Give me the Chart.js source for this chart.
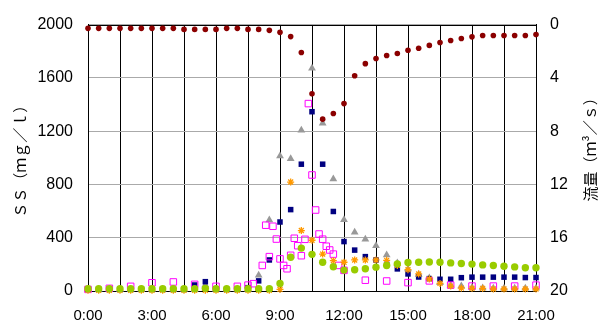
<!DOCTYPE html>
<html>
<head>
<meta charset="utf-8">
<style>
  html, body { margin: 0; padding: 0; background: #fff; }
  #wrap { width: 598px; height: 322px; }
</style>
</head>
<body>
<div id="wrap"><canvas id="ssChart" width="598" height="322"></canvas></div>
<script src="https://cdn.jsdelivr.net/npm/chart.js@4.4.0/dist/chart.umd.min.js"></script>
<script>
// sampling times in hours, every 30 minutes
const halfHours = [0, 0.5, 1, 1.5, 2, 2.5, 3, 3.5, 4, 4.5, 5, 5.5, 6, 6.5, 7, 7.5, 8, 8.5, 9, 9.5,
  10, 10.5, 11, 11.5, 12, 12.5, 13, 13.5, 14, 14.5, 15, 15.5, 16, 16.5, 17, 17.5, 18, 18.5, 19, 19.5,
  20, 20.5, 21];

// flow (m3/s), right axis
const flow = [0.28, 0.28, 0.28, 0.28, 0.28, 0.28, 0.28, 0.28, 0.28, 0.36, 0.36, 0.36, 0.36, 0.28, 0.28, 0.36, 0.36, 0.43, 0.58, 0.9,
  2.1, 5.2, 7.1, 6.67, 5.93, 3.84, 2.93, 2.54, 2.32, 2.17, 1.93, 1.78, 1.56, 1.34, 1.19, 1.04, 0.92, 0.82, 0.82, 0.82,
  0.82, 0.82, 0.75];

// SS (mg/l), left axis
const ssGreen = [17, 17, 17, 17, 17, 17, 17, 17, 17, 17, 17, 20, 17, 17, 17, 17, 17, 17, 57, 253,
  322, 275, 216, 182, 157, 160, 167, 179, 192, 204, 214, 216, 218, 216, 211, 207, 202, 196, 192, 186,
  181, 175, 175];
const ssOrange = [5, 5, 5, 5, 5, 5, 5, 5, 5, 5, 5, 5, 5, 5, 5, 5, 5, 5, 12, 818,
  454, 381, 277, 228, 216, 233, 233, 233, 230, 192, 160, 128, 90, 57, 37, 22, 20, 20, 15, 15,
  15, 15, 15];
const ssNavy = [12, 12, 12, 12, 12, 12, 12, 12, 12, 12, 45, 70, 15, 12, 12, 25, 76, 233, 518, 611,
  952, 1346, 952, 597, 371, 307, 258, 233, 200, 166, 128, 105, 93, 88, 88, 100, 104, 104, 104, 104,
  104, 101, 101];
const ssGray = [10, 10, 10, 10, 10, 10, 10, 10, 10, 10, 10, 45, 12, 12, 12, 12, 118, 533, 1014, 992,
  1206, 1672, 1260, 840, 535, 442, 388, 339, 271, 210, 165, 124, 97, 61, 44, 37, 27, 22, 20, 20,
  20, 20, 20];

// magenta series sampled at irregular times
const pinkTimes = [0, 1, 2, 3, 4, 5, 6, 7, 7.5, 7.75, 8.17, 8.33, 8.5, 8.67, 8.83, 9, 9.17, 9.33, 9.5, 9.67, 9.83,
  10, 10.17, 10.33, 10.5, 10.67, 10.83, 11, 11.17, 11.33, 11.5, 11.75, 12, 13, 14, 15, 16, 17, 18, 19, 20, 21];
const ssPink = [12, 20, 35, 62, 68, 50, 35, 35, 44, 55, 192, 494, 258, 486, 390, 241, 192, 167, 268, 396, 340,
  265, 388, 1407, 871, 608, 428, 389, 336, 308, 277, 192, 155, 81, 75, 63, 76, 44, 37, 37, 37, 44];

const ssTitle = 'ＳＳ（ｍｇ／ｌ）';
const flowTitle = '流量（ｍ³／ｓ）';

function pts(xs, ys) {
  return xs.map((x, i) => ({x: x, y: ys[i]}));
}

const fontNum = '"Liberation Sans", Arial, sans-serif';
const fontJp = '"Noto Sans CJK JP", sans-serif';

// frame round the plot and the right-hand title (reads bottom to top)
const frame = {
  id: 'frame',
  beforeDatasetsDraw(chart) {
    const {ctx, chartArea: a} = chart;
    ctx.save();
    ctx.strokeStyle = '#000';
    ctx.lineWidth = 1;
    ctx.strokeRect(Math.round(a.left) + 0.5, Math.round(a.top) + 0.5,
      Math.round(a.right - a.left), Math.round(a.bottom - a.top));
    ctx.restore();
  },
  afterDraw(chart) {
    const {ctx, chartArea: a} = chart;
    ctx.save();
    ctx.translate(chart.width - 8, (a.top + a.bottom) / 2 - 12);
    ctx.rotate(-Math.PI / 2);
    ctx.font = '15px ' + fontJp;
    ctx.fillStyle = '#000';
    ctx.textAlign = 'center';
    ctx.textBaseline = 'middle';
    ctx.fillText(flowTitle, 0, 0);
    ctx.restore();
  }
};

new Chart(document.getElementById('ssChart'), {
  type: 'scatter',
  data: {
    datasets: [
      {
        label: 'flow',
        data: pts(halfHours, flow),
        yAxisID: 'y1',
        pointStyle: 'circle',
        pointRadius: 2.8,
        backgroundColor: '#8b0000',
        borderColor: '#8b0000',
        borderWidth: 0
      },
      {
        label: 'green',
        data: pts(halfHours, ssGreen),
        yAxisID: 'y',
        pointStyle: 'circle',
        pointRadius: 3.7,
        backgroundColor: '#99cc00',
        borderColor: '#99cc00',
        borderWidth: 0
      },
      {
        label: 'orange',
        data: pts(halfHours, ssOrange),
        yAxisID: 'y',
        pointStyle: 'star',
        pointRadius: 3.5,
        backgroundColor: '#ff9900',
        borderColor: '#ff9900',
        borderWidth: 1.3
      },
      {
        label: 'pink',
        data: pts(pinkTimes, ssPink),
        yAxisID: 'y',
        pointStyle: 'rect',
        pointRadius: 4.6,
        backgroundColor: 'rgba(255,255,255,0)',
        borderColor: '#ff00ff',
        borderWidth: 1
      },
      {
        label: 'navy',
        data: pts(halfHours, ssNavy),
        yAxisID: 'y',
        pointStyle: 'rect',
        pointRadius: 3.9,
        backgroundColor: '#000080',
        borderColor: '#000080',
        borderWidth: 0
      },
      {
        label: 'gray',
        data: pts(halfHours, ssGray),
        yAxisID: 'y',
        pointStyle: 'triangle',
        pointRadius: 4.5,
        backgroundColor: '#999999',
        borderColor: '#999999',
        borderWidth: 0
      }
    ]
  },
  options: {
    responsive: false,
    animation: false,
    devicePixelRatio: 1,
    clip: false,
    layout: { padding: { top: 20, right: 0, bottom: 0, left: 0 } },
    plugins: {
      legend: { display: false },
      tooltip: { enabled: false }
    },
    scales: {
      x: {
        type: 'linear',
        min: 0,
        max: 21,
        afterFit(scale) { scale.height = 31; },
        grid: { color: '#000', lineWidth: 1, drawTicks: false },
        border: { color: '#000' },
        ticks: {
          stepSize: 1.5,
          autoSkip: false,
          maxRotation: 0,
          padding: 16,
          color: '#000',
          font: { family: fontNum, size: 15 },
          callback: v => (v % 3 === 0 ? v + ':00' : '')
        }
      },
      y: {
        position: 'left',
        min: 0,
        max: 2000,
        afterFit(scale) { scale.width = 88; },
        grid: { color: '#aaaaaa', lineWidth: 1, drawTicks: false },
        border: { color: '#000' },
        ticks: {
          stepSize: 400,
          padding: 15,
          color: '#000',
          font: { family: fontNum, size: 16 },
          callback: v => String(v)
        },
        title: {
          display: true,
          text: ssTitle,
          color: '#000',
          font: { family: fontJp, size: 15 },
          padding: { top: 11, bottom: 0 }
        }
      },
      y1: {
        position: 'right',
        reverse: true,
        min: 0,
        max: 20,
        afterFit(scale) { scale.width = 62; },
        grid: { drawOnChartArea: false, drawTicks: false },
        border: { color: '#000' },
        ticks: {
          stepSize: 4,
          padding: 14,
          color: '#000',
          font: { family: fontNum, size: 16 },
          callback: v => String(v)
        }
      }
    }
  },
  plugins: [frame]
});
</script>
</body>
</html>
